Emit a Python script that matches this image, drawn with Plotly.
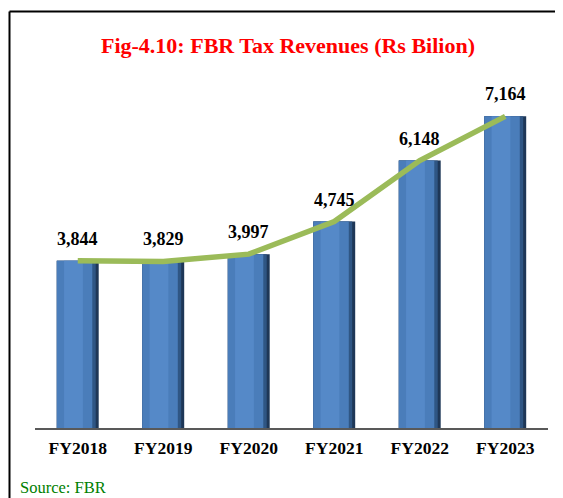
import plotly.graph_objects as go

years = ["FY2018", "FY2019", "FY2020", "FY2021", "FY2022", "FY2023"]
revenues = [3844, 3829, 3997, 4745, 6148, 7164]
labels = ["3,844", "3,829", "3,997", "4,745", "6,148", "7,164"]

# page body has an 8px margin, so the figure is drawn 8px in from the window edge
W, H = 555, 490
L, R, T, B = 27, 15, 72, 70
PW, PH = W - L - R, H - T - B


def px(x):
    return (x - L) / PW


def py(y):
    return (H - B - y) / PH


fig = go.Figure()
# dark base (right-edge shading)
fig.add_trace(go.Bar(x=years, y=revenues, width=0.49, marker=dict(color="#1E3757", line=dict(width=0)),
                     hoverinfo="skip", showlegend=False))
# intermediate shading
fig.add_trace(go.Bar(x=years, y=revenues, width=0.455, offset=-0.245,
                     marker=dict(color="#2F5684", line=dict(width=0)), hoverinfo="skip", showlegend=False))
# main body
fig.add_trace(go.Bar(x=years, y=revenues, width=0.415, offset=-0.245,
                     marker=dict(color="#4A7DBA", line=dict(width=0)), hoverinfo="skip", showlegend=False))
# lighter center strip
fig.add_trace(go.Bar(x=years, y=revenues, width=0.22, offset=-0.16,
                     marker=dict(color="#5589C8", line=dict(width=0)), hoverinfo="skip", showlegend=False))
# trend line
fig.add_trace(go.Scatter(x=years, y=revenues, mode="lines",
                         line=dict(color="#9BBB59", width=5.5), showlegend=False, hoverinfo="skip"))

for yr, v, t in zip(years, revenues, labels):
    fig.add_annotation(x=yr, y=v, text=f"<b>{t}</b>", showarrow=False, yanchor="middle", yshift=22,
                       font=dict(family="Liberation Serif", size=18, color="black"))

# frame lines (left and top)
fig.add_shape(type="line", xref="paper", yref="paper",
              x0=px(1.5), x1=px(W), y0=py(3.5), y1=py(3.5),
              line=dict(color="black", width=2))
fig.add_shape(type="line", xref="paper", yref="paper",
              x0=px(1.5), x1=px(1.5), y0=py(3.5), y1=py(H),
              line=dict(color="black", width=2))

fig.add_annotation(xref="paper", yref="paper", x=px(10), y=py(479),
                   xanchor="left", yanchor="middle", showarrow=False, text="Source: FBR",
                   font=dict(family="Liberation Serif", size=16.5, color="#008000"))

fig.update_layout(
    width=W, height=H,
    margin=dict(l=L, r=R, t=T, b=B),
    paper_bgcolor="white", plot_bgcolor="white",
    barmode="overlay", bargap=0.5,
    title=dict(text="<b>Fig-4.10: FBR Tax Revenues (Rs Bilion)</b>", x=280 / W, xanchor="center",
               y=1 - 37 / H, yanchor="middle",
               font=dict(family="Liberation Serif", size=22, color="#FF0000")),
    xaxis=dict(showgrid=False, showline=True, linecolor="#595959", linewidth=2, ticks="",
               tickfont=dict(family="Liberation Serif", size=17.5, color="black"),
               ticklabelstandoff=3,
               tickprefix="<b>", ticksuffix="</b>", fixedrange=True),
    yaxis=dict(range=[0, 8000], showgrid=False, showline=False, showticklabels=False, zeroline=False,
               fixedrange=True),
)

fig.write_html("out.html")
